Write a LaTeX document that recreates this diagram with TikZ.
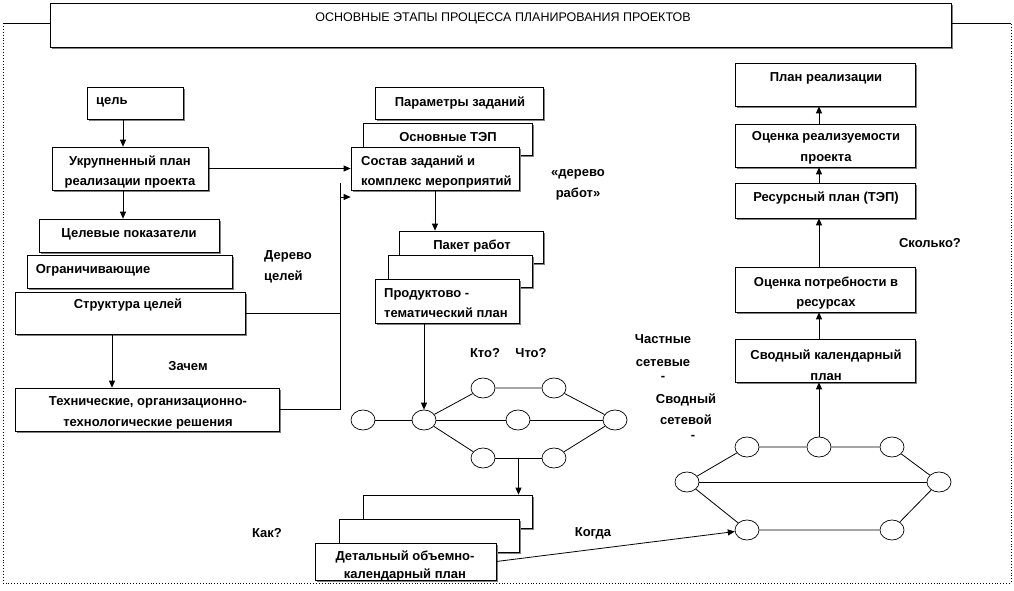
\documentclass[tikz,border=0pt]{standalone}
\usepackage{fontspec}
\setmainfont{Liberation Sans}
\usetikzlibrary{shapes.geometric}
\usetikzlibrary{arrows.meta}
\usetikzlibrary{fit}
\usetikzlibrary{shadows}

\tikzset{
	pbox/.style={draw, fill=white, inner sep=0pt, line width=0.7pt,
		drop shadow={shadow xshift=1.5pt, shadow yshift=-1.5pt, fill=black!50, opacity=1}},
	lbl/.style={font=\bfseries\fontsize{13}{20.5}\selectfont, align=center, inner sep=1pt},
	ttl/.style={font=\fontsize{12.5}{14}\selectfont, inner sep=1pt},
	ev/.style={draw, ellipse, fill=white, line width=0.7pt, minimum width=24pt, minimum height=20pt, inner sep=0pt},
	arr/.style={line width=0.8pt, -{Triangle[length=7pt,width=6pt]}},
	ln/.style={line width=0.8pt},
}

\begin{document}
\begin{tikzpicture}[x=1pt,y=-1pt]
	\useasboundingbox (0,0) rectangle (1014,590);
	% frame
	\coordinate (fr-tl) at (3,23);
	\coordinate (fr-bl) at (3,583);
	\coordinate (fr-br) at (1011,583);
	\coordinate (fr-tr) at (1011,23);
	\draw[dotted, line width=0.9pt] (fr-tl) -- (fr-bl) -- (fr-br) -- (fr-tr);
	\node[pbox, fit={(50,3) (951,47)}] (title) {};
	\node[ttl] (title-t) at (503,18) {ОСНОВНЫЕ ЭТАПЫ ПРОЦЕССА ПЛАНИРОВАНИЯ ПРОЕКТОВ};
	\draw[ln] (fr-tl) -- (fr-tl -| title.west);
	\draw[ln] (fr-tr) -- (fr-tr -| title.east);

	% goals
	\node[pbox, fit={(87,87) (183,119)}] (goal) {};
	\node[lbl, anchor=west] (goal-t) at (95,102) {цель};
	\node[pbox, fit={(52,147) (208,190)}] (uplan) {};
	\node[lbl] (uplan-t) at (130,172) {Укрупненный план\\реализации проекта};
	\node[pbox, fit={(39,219) (219,252)}] (tind) {};
	\node[lbl] (tind-t) at (129,234) {Целевые показатели};
	\node[pbox, fit={(27,255) (232,288)}] (lim) {};
	\node[lbl] (lim-t) at (93,270) {Ограничивающие};
	\node[pbox, fit={(15,292) (245,334)}] (gstr) {};
	\node[lbl] (gstr-t) at (128,305) {Структура целей};
	\node[pbox, fit={(15,388) (279,431)}] (tech) {};
	\node[lbl] (tech-t) at (148,413) {Технические, организационно-\\технологические решения};
	\node[lbl, anchor=west, align=left] (gtree) at (263,267) {Дерево\\целей};
	\node[lbl] (why) at (188,366) {Зачем};

	% tasks
	\node[pbox, fit={(375,87) (543,119)}] (param) {};
	\node[lbl] (param-t) at (460,103) {Параметры заданий};
	\node[pbox, fit={(363,123) (532,155)}] (tep) {};
	\node[lbl] (tep-t) at (448,137) {Основные ТЭП};
	\node[pbox, fit={(351,147) (519,190)}] (sostav) {};
	\node[lbl, anchor=west, align=left] (sostav-t) at (360,172) {Состав заданий и\\комплекс мероприятий};
	\node[lbl] (wtree) at (578,185) {«дерево\\работ»};
	\node[pbox, fit={(399,231) (543,263)}] (paket) {};
	\node[lbl] (paket-t) at (472,246) {Пакет работ};
	\node[pbox, fit={(388,255) (532,287)}] (pmid) {};
	\node[pbox, fit={(375,279) (519,323)}] (prod) {};
	\node[lbl, anchor=west, align=left] (prod-t) at (383,303) {Продуктово -\\тематический план};

	% left network
	\node[ev] (n1) at (363,420) {};
	\node[ev] (n2) at (424,420) {};
	\node[ev] (t1) at (483,388) {};
	\node[ev] (t2) at (554,388) {};
	\node[ev] (m) at (518,420) {};
	\node[ev] (r) at (615,420) {};
	\node[ev] (b1) at (483,458) {};
	\node[ev] (b2) at (554,458) {};
	\draw[ln] (n1) -- (n2);
	\draw[ln] (n2) -- (t1) -- (t2) -- (r);
	\draw[ln] (n2) -- (m) -- (r);
	\draw[ln] (n2) -- (b1);
	\draw[ln] (b1) -- (b2) coordinate[midway] (bm);
	\draw[ln] (b2) -- (r);
	\node[lbl] (who) at (485,353) {Кто?};
	\node[lbl] (what) at (531,353) {Что?};
	\node[lbl] (part) at (663,358) {Частные\\[2pt]сетевые\\[-6pt]-};
	\node[lbl] (summ) at (686,417) {Сводный\\сетевой\\[-5pt]\hspace*{14pt}-};

	% detailed plan
	\node[pbox, fit={(363,495) (532,528)}] (dback) {};
	\node[pbox, fit={(339,519) (519,552)}] (dmid) {};
	\node[pbox, fit={(315,543) (496,580)}] (dfront) {};
	\node[lbl, font=\bfseries\fontsize{13}{18}\selectfont] (dfront-t) at (405,566) {Детальный объемно-\\календарный план};
	\node[lbl] (how) at (267,533) {Как?};
	\node[lbl] (when) at (593,533) {Когда};

	% right network
	\node[ev] (L) at (687,482) {};
	\node[ev] (T1) at (747,447) {};
	\node[ev] (T2) at (819,447) {};
	\node[ev] (T3) at (892,447) {};
	\node[ev] (R) at (939,482) {};
	\node[ev] (B1) at (747,530) {};
	\node[ev] (B2) at (892,530) {};
	\draw[ln] (L) -- (T1) -- (T2) -- (T3) -- (R);
	\draw[ln] (L) -- (R);
	\draw[ln] (L) -- (B1) -- (B2) -- (R);

	% plan column
	\node[pbox, fit={(735,63) (915,106)}] (plan) {};
	\node[lbl] (plan-t) at (826,78) {План реализации};
	\node[pbox, fit={(735,124) (915,167)}] (real) {};
	\node[lbl] (real-t) at (826,148) {Оценка реализуемости\\проекта};
	\node[pbox, fit={(735,183) (915,218)}] (res) {};
	\node[lbl] (res-t) at (826,198) {Ресурсный план (ТЭП)};
	\node[lbl] (howmuch) at (930,243) {Сколько?};
	\node[pbox, fit={(735,267) (915,312)}] (need) {};
	\node[lbl] (need-t) at (826,293) {Оценка потребности в\\ресурсах};
	\node[pbox, fit={(735,339) (915,382)}] (svod) {};
	\node[lbl] (svod-t) at (826,365) {Сводный календарный\\план};

	% connectors
	\draw[arr] ([xshift=-12pt]goal.south) -- ([xshift=-12pt]goal.south |- uplan.north);
	\draw[arr] ([xshift=-7pt]uplan.south) -- ([xshift=-7pt]uplan.south |- tind.north);
	\draw[arr] ([xshift=-18pt]gstr.south) -- ([xshift=-18pt]gstr.south |- tech.north);
	\draw[arr] (uplan.east) -- (uplan.east -| sostav.west);
	\coordinate (vtop) at (340,183);
	\coordinate (vin) at (340,197);
	\draw[ln] (vtop) -- (vtop |- tech.east) -- (tech.east);
	\draw[ln] (gstr.east) -- (gstr.east -| vtop);
	\draw[arr] (vin) -- (vin -| sostav.west);
	\draw[arr] (sostav.south) -- (sostav.south |- paket.north);
	\draw[arr] (n2 |- prod.south) -- (n2);
	\draw[arr] (bm) -- (bm |- dback.north);
	\draw[arr] (dfront.east) -- (B1);
	\draw[arr] (T2) -- (T2 |- svod.south);
	\draw[arr] (T2 |- svod.north) -- (T2 |- need.south);
	\draw[arr] (T2 |- need.north) -- (T2 |- res.south);
	\draw[arr] (T2 |- res.north) -- (T2 |- real.south);
	\draw[arr] (T2 |- real.north) -- (T2 |- plan.south);
\end{tikzpicture}
\end{document}
